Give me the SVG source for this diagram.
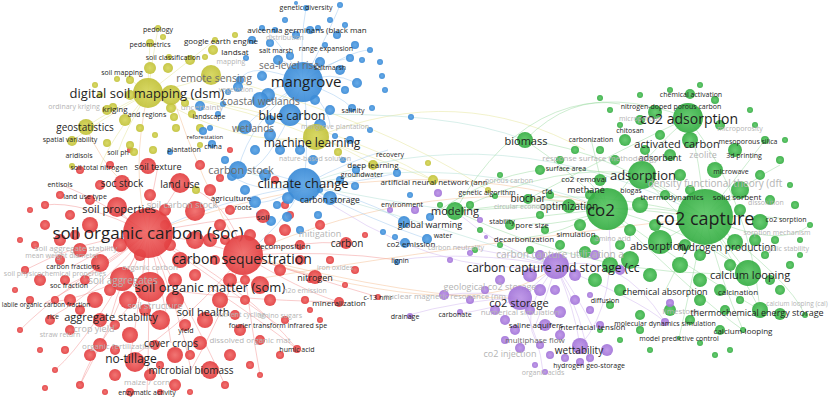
<svg xmlns="http://www.w3.org/2000/svg" width="830" height="397" viewBox="0 0 830 397">
<defs>
<radialGradient id="gR"><stop offset="0" stop-color="#f06a68"/><stop offset="1" stop-color="#e23d3f"/></radialGradient>
<radialGradient id="gY"><stop offset="0" stop-color="#d6d65a"/><stop offset="1" stop-color="#c2c23a"/></radialGradient>
<radialGradient id="gB"><stop offset="0" stop-color="#5aa4e6"/><stop offset="1" stop-color="#3a8ad6"/></radialGradient>
<radialGradient id="gG"><stop offset="0" stop-color="#5cc866"/><stop offset="1" stop-color="#35ad43"/></radialGradient>
<radialGradient id="gP"><stop offset="0" stop-color="#bb92e6"/><stop offset="1" stop-color="#a274d8"/></radialGradient>
<style>
.r circle{fill:url(#gR);fill-opacity:.92}
.y circle{fill:url(#gY);fill-opacity:.92}
.b circle{fill:url(#gB);fill-opacity:.92}
.g circle{fill:url(#gG);fill-opacity:.92}
.p circle{fill:url(#gP);fill-opacity:.92}
#connectors path{fill:none;stroke-width:1;stroke-opacity:.45}
.er{stroke:#f28c8c}.ey{stroke:#e2e28e}.eb{stroke:#96c4ee}.eg{stroke:#92d89a}.ep{stroke:#cdb0ee}.et{stroke:#a8dcd0}.eo{stroke:#f4b888}
text{font-family:"Open Sans","DejaVu Sans",sans-serif;fill:#1e1e1e;text-anchor:middle;dominant-baseline:central}
text.l{fill:#b4b4b4}
text.m{fill:#6a6a6a}
</style>
</defs>
<rect width="830" height="397" fill="#fff"/>
<g id="connectors">
<path class="er" d="M148,233 Q100,200 60,184"/><path class="er" d="M148,233 Q100,270 68,285"/><path class="er" d="M148,233 Q90,280 45,303"/><path class="er" d="M148,233 Q100,290 53,316"/><path class="er" d="M148,233 Q140,300 130,358"/><path class="er" d="M148,233 Q165,300 171,343"/><path class="er" d="M148,233 Q180,310 191,370"/><path class="er" d="M148,233 Q150,320 147,392"/><path class="er" d="M148,233 Q120,280 111,316"/><path class="er" d="M148,233 Q100,250 73,266"/><path class="er" d="M148,233 Q125,220 117,207"/><path class="er" d="M148,233 Q150,200 158,166"/><path class="er" d="M148,233 Q170,200 180,183"/><path class="er" d="M148,233 Q200,240 243,255"/><path class="er" d="M148,233 Q210,220 263,216"/><path class="er" d="M148,233 Q250,290 297,349"/><path class="er" d="M148,233 Q230,290 278,325"/><path class="er" d="M148,233 Q80,240 25,270"/><path class="er" d="M148,233 Q60,290 20,330"/><path class="er" d="M148,233 Q110,330 80,385"/><path class="er" d="M148,233 Q80,200 45,205"/><path class="er" d="M148,233 Q200,330 225,385"/><path class="er" d="M148,233 Q90,340 55,370"/><path class="er" d="M243,255 Q300,240 346,243"/><path class="er" d="M243,255 Q290,270 315,277"/><path class="er" d="M243,255 Q300,290 339,302"/><path class="er" d="M243,255 Q320,280 378,297"/><path class="er" d="M243,255 Q190,320 130,358"/><path class="er" d="M243,255 Q220,320 191,370"/><path class="er" d="M243,255 Q330,250 398,260"/><path class="er" d="M243,255 Q250,320 260,375"/><path class="er" d="M243,255 Q230,200 180,183"/><path class="er" d="M210,287 Q260,320 297,349"/><path class="er" d="M150,287 Q230,300 339,302"/><path class="er" d="M150,287 Q100,330 80,385"/><path class="er" d="M122,279 Q80,300 45,303"/><path class="eo" d="M243,255 Q440,170 607,209"/><path class="eo" d="M243,255 Q480,330 556,266"/><path class="eo" d="M148,233 Q400,140 607,209"/><path class="eo" d="M210,287 Q420,250 705,217"/><path class="eo" d="M243,255 Q420,300 520,298"/><path class="eo" d="M148,93 Q130,170 148,233"/><path class="eo" d="M86,127 Q100,160 123,183"/><path class="eo" d="M172,95 Q200,180 243,255"/>
<path class="ey" d="M148,93 Q152,60 158,28"/><path class="ey" d="M148,93 Q148,70 150,43"/><path class="ey" d="M148,93 Q130,80 122,72"/><path class="ey" d="M148,93 Q110,110 86,127"/><path class="ey" d="M148,93 Q100,120 72,141"/><path class="ey" d="M148,93 Q125,130 118,152"/><path class="ey" d="M148,93 Q110,140 100,167"/><path class="ey" d="M148,93 Q190,60 215,40"/><path class="ey" d="M148,93 Q190,85 211,75"/><path class="ey" d="M172,95 Q250,110 316,137"/><path class="ey" d="M172,95 Q330,120 433,180"/><path class="ey" d="M316,137 Q460,80 585,150"/><path class="ey" d="M211,75 Q380,120 488,190"/><path class="ey" d="M316,137 Q350,150 373,165"/><path class="ey" d="M316,137 Q380,160 433,180"/><path class="ey" d="M148,93 Q240,150 316,137"/>
<path class="eb" d="M303,82 Q300,40 306,8"/><path class="eb" d="M303,82 Q290,60 278,60"/><path class="eb" d="M303,82 Q330,60 350,58"/><path class="eb" d="M303,82 Q330,70 357,83"/><path class="eb" d="M303,82 Q340,95 352,108"/><path class="eb" d="M303,82 Q330,110 330,126"/><path class="eb" d="M303,82 Q270,85 260,100"/><path class="eb" d="M303,82 Q295,100 290,115"/><path class="eb" d="M303,82 Q310,130 304,185"/><path class="eb" d="M303,82 Q250,120 238,170"/><path class="eb" d="M303,82 Q260,110 245,127"/><path class="eb" d="M303,82 Q250,60 240,80"/><path class="eb" d="M303,82 Q280,40 262,28"/><path class="eb" d="M303,82 Q330,30 340,5"/><path class="eb" d="M303,82 Q350,50 370,50"/><path class="eb" d="M304,185 Q270,170 238,170"/><path class="eb" d="M304,185 Q260,195 232,176"/><path class="eb" d="M304,185 Q270,205 255,202"/><path class="eb" d="M304,185 Q370,200 404,222"/><path class="eb" d="M304,185 Q370,220 427,239"/><path class="eb" d="M304,185 Q350,185 397,173"/><path class="eb" d="M304,185 Q350,160 388,150"/><path class="eb" d="M304,185 Q220,200 148,233"/><path class="eb" d="M304,185 Q280,230 243,255"/><path class="eb" d="M290,115 Q260,180 238,170"/><path class="et" d="M304,185 Q460,150 607,209"/><path class="et" d="M304,185 Q500,110 705,217"/><path class="et" d="M304,185 Q380,200 455,211"/><path class="et" d="M290,115 Q450,110 525,140"/><path class="et" d="M238,170 Q420,220 556,266"/>
<path class="eg" d="M705,217 Q700,160 688,118"/><path class="eg" d="M705,217 Q670,190 642,175"/><path class="eg" d="M705,217 Q660,205 607,209"/><path class="eg" d="M705,217 Q680,230 660,242"/><path class="eg" d="M705,217 Q720,240 735,242"/><path class="eg" d="M705,217 Q730,250 748,273"/><path class="eg" d="M705,217 Q740,270 760,310"/><path class="eg" d="M705,217 Q730,200 737,196"/><path class="eg" d="M705,217 Q760,215 786,219"/><path class="eg" d="M705,217 Q750,180 780,165"/><path class="eg" d="M705,217 Q750,160 765,140"/><path class="eg" d="M705,217 Q720,280 743,330"/><path class="eg" d="M705,217 Q690,290 679,338"/><path class="eg" d="M705,217 Q680,260 665,291"/><path class="eg" d="M705,217 Q610,150 525,140"/><path class="eg" d="M705,217 Q580,200 455,211"/><path class="eg" d="M705,217 Q600,190 528,199"/><path class="eg" d="M705,217 Q780,250 810,225"/><path class="eg" d="M705,217 Q790,280 805,315"/><path class="eg" d="M607,209 Q570,170 525,140"/><path class="eg" d="M607,209 Q530,200 455,211"/><path class="eg" d="M607,209 Q560,200 528,199"/><path class="eg" d="M607,209 Q570,225 532,224"/><path class="eg" d="M607,209 Q560,235 524,238"/><path class="eg" d="M607,209 Q550,215 502,221"/><path class="eg" d="M607,209 Q600,190 584,178"/><path class="eg" d="M607,209 Q600,175 591,139"/><path class="eg" d="M607,209 Q650,150 688,118"/><path class="eg" d="M607,209 Q690,230 748,273"/><path class="eg" d="M607,209 Q690,270 760,310"/><path class="eg" d="M455,211 Q540,60 688,118"/><path class="eg" d="M525,140 Q570,95 620,104"/><path class="eg" d="M430,217 Q560,120 705,217"/><path class="eg" d="M455,211 Q560,160 642,175"/><path class="eg" d="M528,199 Q620,150 688,118"/><path class="eg" d="M455,211 Q600,280 748,273"/><path class="eg" d="M642,175 Q700,240 748,273"/><path class="eg" d="M688,118 Q750,200 760,310"/><path class="eg" d="M607,209 Q700,300 743,330"/>
<path class="ep" d="M556,266 Q540,280 520,298"/><path class="ep" d="M556,266 Q575,310 580,346"/><path class="ep" d="M556,266 Q545,300 536,324"/><path class="ep" d="M556,266 Q580,300 592,326"/><path class="ep" d="M556,266 Q520,310 535,339"/><path class="ep" d="M556,266 Q585,320 589,365"/><path class="ep" d="M556,266 Q490,250 456,247"/><path class="ep" d="M556,266 Q470,250 398,260"/><path class="ep" d="M556,266 Q620,250 665,322"/><path class="ep" d="M556,266 Q640,300 665,322"/><path class="ep" d="M520,298 Q490,310 455,314"/><path class="ep" d="M520,298 Q460,300 405,316"/><path class="ep" d="M520,298 Q480,290 444,295"/><path class="ep" d="M520,298 Q540,340 543,372"/><path class="ep" d="M580,346 Q620,300 607,209"/><path class="ep" d="M304,185 Q430,280 556,266"/><path class="ep" d="M455,211 Q500,250 556,266"/>
</g>
<g class="r" id="red-bubbles">
<circle cx="90" cy="225" r="8"/><circle cx="80" cy="250" r="7"/><circle cx="60" cy="240" r="6"/><circle cx="45" cy="225" r="5"/><circle cx="100" cy="263" r="9"/><circle cx="70" cy="300" r="6"/><circle cx="95" cy="300" r="8"/><circle cx="128" cy="300" r="9"/><circle cx="175" cy="300" r="9"/><circle cx="205" cy="320" r="8"/><circle cx="160" cy="320" r="10"/><circle cx="130" cy="335" r="8"/><circle cx="100" cy="345" r="7"/><circle cx="135" cy="362" r="10"/><circle cx="175" cy="355" r="8"/><circle cx="200" cy="343" r="7"/><circle cx="220" cy="300" r="8"/><circle cx="230" cy="280" r="7"/><circle cx="260" cy="285" r="9"/><circle cx="280" cy="270" r="6"/><circle cx="270" cy="300" r="6"/><circle cx="240" cy="330" r="6"/><circle cx="210" cy="370" r="9"/><circle cx="175" cy="385" r="6"/><circle cx="150" cy="375" r="6"/><circle cx="115" cy="375" r="6"/><circle cx="90" cy="355" r="6"/><circle cx="70" cy="330" r="5"/><circle cx="50" cy="320" r="5"/><circle cx="40" cy="280" r="6"/><circle cx="60" cy="260" r="5"/><circle cx="210" cy="240" r="7"/><circle cx="220" cy="225" r="6"/><circle cx="195" cy="240" r="9"/><circle cx="180" cy="260" r="8"/><circle cx="100" cy="320" r="7"/><circle cx="80" cy="310" r="5"/><circle cx="165" cy="210" r="6"/><circle cx="150" cy="195" r="6"/><circle cx="90" cy="200" r="5"/><circle cx="70" cy="215" r="5"/><circle cx="100" cy="185" r="5"/><circle cx="210" cy="190" r="6"/><circle cx="230" cy="210" r="5"/><circle cx="270" cy="240" r="6"/><circle cx="285" cy="230" r="6"/><circle cx="300" cy="260" r="5"/><circle cx="305" cy="300" r="4"/><circle cx="285" cy="320" r="4"/><circle cx="260" cy="340" r="5"/><circle cx="230" cy="355" r="6"/><circle cx="250" cy="365" r="4"/><circle cx="190" cy="392" r="3"/><circle cx="130" cy="392" r="4"/><circle cx="160" cy="392" r="3"/><circle cx="65" cy="350" r="4"/><circle cx="40" cy="350" r="3"/><circle cx="30" cy="300" r="4"/><circle cx="25" cy="270" r="4"/><circle cx="35" cy="245" r="4"/><circle cx="45" cy="205" r="4"/><circle cx="60" cy="195" r="4"/><circle cx="80" cy="170" r="4"/><circle cx="110" cy="165" r="4"/><circle cx="130" cy="150" r="3"/><circle cx="200" cy="165" r="5"/><circle cx="220" cy="178" r="4"/><circle cx="230" cy="150" r="3"/><circle cx="275" cy="180" r="4"/><circle cx="285" cy="205" r="4"/><circle cx="320" cy="225" r="5"/><circle cx="330" cy="260" r="4"/><circle cx="300" cy="245" r="5"/><circle cx="355" cy="270" r="4"/><circle cx="365" cy="235" r="3"/><circle cx="280" cy="355" r="4"/><circle cx="320" cy="320" r="3"/><circle cx="310" cy="310" r="3"/><circle cx="345" cy="285" r="3"/><circle cx="260" cy="375" r="3"/><circle cx="225" cy="385" r="4"/><circle cx="105" cy="392" r="3"/><circle cx="80" cy="385" r="4"/><circle cx="55" cy="370" r="3"/><circle cx="45" cy="388" r="3"/><circle cx="20" cy="330" r="3"/><circle cx="15" cy="290" r="3"/><circle cx="20" cy="240" r="3"/><circle cx="30" cy="210" r="3"/><circle cx="245" cy="300" r="5"/><circle cx="215" cy="260" r="5"/><circle cx="140" cy="255" r="6"/><circle cx="120" cy="245" r="7"/><circle cx="170" cy="245" r="6"/><circle cx="65" cy="280" r="5"/><circle cx="85" cy="280" r="5"/><circle cx="110" cy="290" r="6"/><circle cx="195" cy="275" r="6"/><circle cx="235" cy="315" r="5"/><circle cx="185" cy="325" r="6"/><circle cx="115" cy="350" r="5"/><circle cx="155" cy="345" r="5"/><circle cx="250" cy="235" r="6"/><circle cx="165" cy="225" r="5"/><circle cx="225" cy="240" r="5"/><circle cx="290" cy="215" r="4"/><circle cx="310" cy="280" r="3"/><circle cx="175" cy="280" r="7"/><circle cx="145" cy="310" r="6"/><circle cx="115" cy="325" r="5"/><circle cx="75" cy="235" r="5"/><circle cx="55" cy="300" r="4"/><circle cx="190" cy="355" r="5"/><circle cx="160" cy="365" r="4"/><circle cx="245" cy="280" r="5"/>
</g>
<g class="y" id="yellow-bubbles">
<circle cx="211" cy="75" r="10"/><circle cx="190" cy="60" r="5"/><circle cx="163" cy="37" r="3"/><circle cx="169" cy="57" r="3"/><circle cx="205" cy="57" r="3"/><circle cx="150" cy="68" r="6"/><circle cx="168" cy="68" r="5"/><circle cx="130" cy="80" r="4"/><circle cx="117" cy="79" r="3"/><circle cx="113" cy="107" r="4"/><circle cx="171" cy="108" r="5"/><circle cx="192" cy="114" r="4"/><circle cx="174" cy="117" r="4"/><circle cx="125" cy="120" r="6"/><circle cx="107" cy="143" r="4"/><circle cx="130" cy="145" r="4"/><circle cx="153" cy="150" r="4"/><circle cx="200" cy="145" r="3"/><circle cx="196" cy="190" r="4"/><circle cx="213" cy="50" r="5"/><circle cx="235" cy="35" r="3"/><circle cx="130" cy="95" r="5"/><circle cx="185" cy="103" r="4"/><circle cx="100" cy="95" r="3"/><circle cx="95" cy="85" r="3"/><circle cx="140" cy="128" r="4"/><circle cx="155" cy="135" r="3"/><circle cx="200" cy="128" r="4"/><circle cx="428" cy="163" r="3"/><circle cx="240" cy="128" r="3"/><circle cx="176" cy="128" r="4"/><circle cx="338" cy="152" r="4"/><circle cx="488" cy="190" r="3"/>
</g>
<g class="b" id="blue-bubbles">
<circle cx="268" cy="95" r="7"/><circle cx="262" cy="76" r="5"/><circle cx="278" cy="60" r="5"/><circle cx="290" cy="56" r="4"/><circle cx="320" cy="62" r="5"/><circle cx="340" cy="70" r="5"/><circle cx="350" cy="58" r="4"/><circle cx="357" cy="83" r="5"/><circle cx="382" cy="76" r="3"/><circle cx="330" cy="110" r="5"/><circle cx="260" cy="100" r="8"/><circle cx="245" cy="127" r="7"/><circle cx="330" cy="198" r="7"/><circle cx="318" cy="215" r="4"/><circle cx="287" cy="217" r="5"/><circle cx="277" cy="205" r="4"/><circle cx="255" cy="202" r="6"/><circle cx="232" cy="176" r="5"/><circle cx="212" cy="144" r="4"/><circle cx="203" cy="131" r="4"/><circle cx="306" cy="8" r="3"/><circle cx="296" cy="3" r="2"/><circle cx="262" cy="28" r="3"/><circle cx="252" cy="40" r="4"/><circle cx="270" cy="43" r="4"/><circle cx="296" cy="35" r="4"/><circle cx="310" cy="30" r="4"/><circle cx="318" cy="28" r="3"/><circle cx="325" cy="45" r="3"/><circle cx="337" cy="35" r="4"/><circle cx="355" cy="45" r="4"/><circle cx="362" cy="60" r="3"/><circle cx="370" cy="50" r="3"/><circle cx="380" cy="62" r="3"/><circle cx="246" cy="58" r="3"/><circle cx="240" cy="80" r="4"/><circle cx="228" cy="92" r="3"/><circle cx="238" cy="87" r="5"/><circle cx="223" cy="104" r="3"/><circle cx="218" cy="114" r="3"/><circle cx="200" cy="106" r="5"/><circle cx="210" cy="128" r="3"/><circle cx="397" cy="173" r="4"/><circle cx="356" cy="170" r="4"/><circle cx="343" cy="160" r="3"/><circle cx="355" cy="186" r="4"/><circle cx="320" cy="190" r="3"/><circle cx="271" cy="221" r="5"/><circle cx="260" cy="215" r="4"/><circle cx="300" cy="230" r="4"/><circle cx="404" cy="222" r="6"/><circle cx="430" cy="217" r="4"/><circle cx="427" cy="239" r="5"/><circle cx="405" cy="243" r="5"/><circle cx="395" cy="237" r="3"/><circle cx="383" cy="232" r="3"/><circle cx="352" cy="108" r="4"/><circle cx="372" cy="108" r="3"/><circle cx="335" cy="136" r="3"/><circle cx="315" cy="100" r="5"/><circle cx="320" cy="125" r="6"/><circle cx="270" cy="135" r="6"/><circle cx="280" cy="150" r="5"/><circle cx="255" cy="150" r="5"/><circle cx="225" cy="160" r="4"/><circle cx="265" cy="175" r="6"/><circle cx="350" cy="140" r="4"/><circle cx="370" cy="130" r="3"/><circle cx="385" cy="90" r="3"/><circle cx="345" cy="90" r="4"/><circle cx="330" cy="20" r="3"/><circle cx="285" cy="20" r="3"/><circle cx="340" cy="5" r="3"/><circle cx="270" cy="120" r="5"/><circle cx="300" cy="150" r="5"/><circle cx="340" cy="180" r="4"/><circle cx="410" cy="195" r="3"/><circle cx="245" cy="190" r="5"/><circle cx="288" cy="198" r="6"/><circle cx="313" cy="160" r="5"/><circle cx="397" cy="262" r="3"/><circle cx="411" cy="117" r="3"/><circle cx="275" cy="30" r="3"/><circle cx="345" cy="25" r="3"/>
</g>
<g class="g" id="green-bubbles">
<circle cx="655" cy="112" r="7"/><circle cx="690" cy="94" r="5"/><circle cx="690" cy="140" r="8"/><circle cx="735" cy="242" r="8"/><circle cx="780" cy="314" r="6"/><circle cx="740" cy="190" r="9"/><circle cx="760" cy="222" r="8"/><circle cx="735" cy="150" r="7"/><circle cx="715" cy="170" r="8"/><circle cx="640" cy="205" r="8"/><circle cx="630" cy="260" r="9"/><circle cx="610" cy="265" r="8"/><circle cx="595" cy="280" r="7"/><circle cx="620" cy="290" r="6"/><circle cx="650" cy="275" r="7"/><circle cx="680" cy="265" r="8"/><circle cx="700" cy="280" r="7"/><circle cx="720" cy="290" r="6"/><circle cx="700" cy="300" r="6"/><circle cx="690" cy="320" r="5"/><circle cx="670" cy="310" r="6"/><circle cx="640" cy="315" r="5"/><circle cx="610" cy="305" r="4"/><circle cx="720" cy="330" r="5"/><circle cx="780" cy="290" r="5"/><circle cx="790" cy="265" r="4"/><circle cx="800" cy="240" r="3"/><circle cx="795" cy="205" r="4"/><circle cx="790" cy="185" r="3"/><circle cx="780" cy="160" r="4"/><circle cx="765" cy="140" r="4"/><circle cx="755" cy="125" r="3"/><circle cx="720" cy="125" r="5"/><circle cx="715" cy="100" r="4"/><circle cx="700" cy="85" r="3"/><circle cx="670" cy="90" r="3"/><circle cx="640" cy="120" r="5"/><circle cx="625" cy="140" r="6"/><circle cx="615" cy="160" r="5"/><circle cx="600" cy="180" r="6"/><circle cx="590" cy="195" r="5"/><circle cx="580" cy="225" r="6"/><circle cx="595" cy="240" r="5"/><circle cx="585" cy="252" r="6"/><circle cx="560" cy="245" r="5"/><circle cx="545" cy="230" r="4"/><circle cx="540" cy="215" r="4"/><circle cx="550" cy="195" r="4"/><circle cx="540" cy="170" r="5"/><circle cx="560" cy="160" r="4"/><circle cx="575" cy="150" r="4"/><circle cx="600" cy="150" r="4"/><circle cx="620" cy="125" r="3"/><circle cx="660" cy="135" r="5"/><circle cx="670" cy="155" r="6"/><circle cx="680" cy="175" r="6"/><circle cx="690" cy="190" r="5"/><circle cx="665" cy="195" r="5"/><circle cx="645" cy="150" r="5"/><circle cx="760" cy="175" r="5"/><circle cx="770" cy="200" r="5"/><circle cx="775" cy="240" r="4"/><circle cx="765" cy="255" r="4"/><circle cx="740" cy="300" r="4"/><circle cx="725" cy="310" r="5"/><circle cx="730" cy="350" r="3"/><circle cx="700" cy="343" r="3"/><circle cx="620" cy="340" r="3"/><circle cx="600" cy="330" r="3"/><circle cx="500" cy="175" r="3"/><circle cx="495" cy="196" r="3"/><circle cx="480" cy="230" r="3"/><circle cx="510" cy="225" r="5"/><circle cx="500" cy="245" r="3"/><circle cx="530" cy="250" r="4"/><circle cx="470" cy="205" r="4"/><circle cx="440" cy="205" r="3"/><circle cx="475" cy="250" r="3"/><circle cx="600" cy="98" r="3"/><circle cx="610" cy="110" r="3"/><circle cx="640" cy="95" r="3"/><circle cx="800" cy="255" r="3"/><circle cx="810" cy="225" r="3"/><circle cx="785" cy="140" r="3"/><circle cx="750" cy="110" r="3"/><circle cx="805" cy="315" r="3"/><circle cx="715" cy="355" r="3"/><circle cx="650" cy="350" r="3"/><circle cx="640" cy="330" r="4"/><circle cx="630" cy="230" r="6"/><circle cx="655" cy="225" r="6"/><circle cx="685" cy="245" r="6"/><circle cx="620" cy="245" r="5"/><circle cx="700" cy="255" r="6"/><circle cx="730" cy="265" r="6"/><circle cx="770" cy="280" r="5"/><circle cx="740" cy="210" r="6"/><circle cx="755" cy="240" r="6"/>
</g>
<g class="p" id="purple-bubbles">
<circle cx="607" cy="350" r="6"/><circle cx="540" cy="255" r="5"/><circle cx="595" cy="255" r="5"/><circle cx="575" cy="275" r="6"/><circle cx="530" cy="275" r="7"/><circle cx="500" cy="280" r="5"/><circle cx="485" cy="290" r="4"/><circle cx="495" cy="310" r="5"/><circle cx="470" cy="300" r="4"/><circle cx="444" cy="295" r="5"/><circle cx="460" cy="312" r="3"/><circle cx="410" cy="316" r="3"/><circle cx="505" cy="320" r="5"/><circle cx="515" cy="330" r="5"/><circle cx="530" cy="310" r="5"/><circle cx="545" cy="325" r="6"/><circle cx="560" cy="312" r="6"/><circle cx="575" cy="300" r="5"/><circle cx="590" cy="310" r="4"/><circle cx="600" cy="325" r="4"/><circle cx="560" cy="335" r="5"/><circle cx="540" cy="345" r="4"/><circle cx="520" cy="348" r="5"/><circle cx="505" cy="340" r="4"/><circle cx="550" cy="355" r="4"/><circle cx="565" cy="358" r="4"/><circle cx="580" cy="362" r="4"/><circle cx="590" cy="358" r="4"/><circle cx="545" cy="372" r="3"/><circle cx="590" cy="295" r="3"/><circle cx="415" cy="210" r="4"/><circle cx="438" cy="193" r="4"/><circle cx="450" cy="260" r="3"/><circle cx="470" cy="253" r="3"/><circle cx="486" cy="237" r="2"/><circle cx="540" cy="290" r="6"/><circle cx="555" cy="290" r="5"/><circle cx="620" cy="270" r="5"/><circle cx="665" cy="322" r="4"/><circle cx="670" cy="303" r="4"/><circle cx="480" cy="220" r="3"/><circle cx="390" cy="210" r="3"/><circle cx="535" cy="365" r="3"/>
</g>
<g id="n-dsm" class="y"><circle cx="148" cy="93" r="15"/><circle cx="171" cy="95" r="10"/><text x="147" y="93" font-size="13">digital soil mapping (dsm)</text></g>
<g id="n-pedology" class="y"><circle cx="158" cy="28" r="3"/><text x="158" y="29" font-size="7">pedology</text></g>
<g id="n-pedometrics" class="y"><circle cx="150" cy="43" r="4"/><text x="150" y="44" font-size="7">pedometrics</text></g>
<g id="n-soilclass" class="y"><text x="173" y="57" font-size="7">soil classification</text></g>
<g id="n-soilmapping" class="y"><text x="122" y="72" font-size="7">soil mapping</text></g>
<g id="n-gee" class="y"><circle cx="215" cy="40" r="3"/><text x="221" y="40" font-size="8">google earth engine</text></g>
<g id="n-landsat" class="y"><text x="235" y="51" font-size="8">landsat</text></g>
<g id="n-mapping" class="y"><text class="l" x="231" y="61" font-size="7">mapping</text></g>
<g id="n-rs" class="y"><text class="m" x="214" y="78" font-size="10.5">remote sensing</text></g>
<g id="n-ordkriging" class="y"><text class="l" x="74" y="106" font-size="7">ordinary kriging</text></g>
<g id="n-kriging" class="y"><circle cx="107" cy="110" r="5"/><text x="115" y="108" font-size="8">kriging</text></g>
<g id="n-andregions" class="y"><text x="147" y="114" font-size="7">and regions</text></g>
<g id="n-geostat" class="y"><circle cx="86" cy="127" r="8"/><text x="85" y="127" font-size="10">geostatistics</text></g>
<g id="n-spatvar" class="y"><circle cx="72" cy="141" r="5"/><text x="70" y="139" font-size="7">spatial variability</text></g>
<g id="n-soilph" class="y"><circle cx="134" cy="152" r="4"/><text x="118" y="152" font-size="7">soil ph</text></g>
<g id="n-aridisols" class="y"><text x="79" y="155" font-size="7">aridisols</text></g>
<g id="n-stn" class="y"><circle cx="72" cy="166" r="3"/><text x="99" y="167" font-size="7">soil total nitrogen</text></g>
<g id="n-uncert" class="y"><text class="l" x="202" y="106" font-size="8">uncertainty</text></g>
<g id="n-veg" class="y"><text class="l" x="236" y="89" font-size="7">vegetation</text></g>
<g id="n-landscape" class="y"><text x="209" y="116" font-size="7">landscape</text></g>
<g id="n-ml" class="y"><circle cx="316" cy="137" r="13"/><text x="312" y="142" font-size="12">machine learning</text></g>
<g id="n-dl" class="y"><circle cx="373" cy="165" r="5"/><text x="373" y="164" font-size="8">deep learning</text></g>
<g id="n-ann" class="y"><circle cx="433" cy="180" r="5"/><text x="434" y="181" font-size="8">artificial neural network (ann</text></g>
<g id="n-ga" class="y"><text x="487" y="192" font-size="7">genetic algorithm</text></g>
<g id="n-recovery" class="y"><text x="390" y="154" font-size="7">recovery</text></g>
<g id="n-mangrove" class="b"><circle cx="303" cy="82" r="20"/><text x="306" y="81" font-size="15">mangrove</text></g>
<g id="n-gendiv" class="b"><text x="306" y="7" font-size="7">genetic diversity</text></g>
<g id="n-avic" class="b"><text x="307" y="29" font-size="8">avicennia germinans (black man</text></g>
<g id="n-distrib" class="b"><text class="l" x="285" y="37" font-size="7">distribution</text></g>
<g id="n-saltmarsh" class="b"><text x="276" y="50" font-size="7">salt marsh</text></g>
<g id="n-range" class="b"><text x="326" y="48" font-size="7">range expansion</text></g>
<g id="n-slr" class="b"><text class="m" x="289" y="65" font-size="10">sea-level rise</text></g>
<g id="n-saltmarsh2" class="b"><text x="330" y="67" font-size="7">saltmarsh</text></g>
<g id="n-coastal" class="b"><text class="m" x="261" y="101" font-size="10">coastal wetlands</text></g>
<g id="n-bluecarbon" class="b"><circle cx="290" cy="115" r="11"/><text x="292" y="115" font-size="12">blue carbon</text></g>
<g id="n-wetlands" class="b"><text class="m" x="253" y="128" font-size="10">wetlands</text></g>
<g id="n-salinity" class="b"><text x="353" y="110" font-size="7">salinity</text></g>
<g id="n-mangplant" class="b"><text class="l" x="335" y="126" font-size="7">mangrove plantation</text></g>
<g id="n-refor" class="b"><text x="205" y="137" font-size="6">reforestation</text></g>
<g id="n-china" class="b"><text x="213" y="146" font-size="7">china</text></g>
<g id="n-plantation" class="b"><circle cx="170" cy="152" r="3"/><text x="184" y="149" font-size="7">plantation</text></g>
<g id="n-cstock" class="b"><circle cx="238" cy="170" r="9"/><text class="m" x="241" y="169" font-size="11">carbon stock</text></g>
<g id="n-nbs" class="b"><text class="l" x="315" y="158" font-size="7">nature-based solution</text></g>
<g id="n-cc" class="b"><circle cx="304" cy="185" r="17"/><text x="303" y="183" font-size="13">climate change</text></g>
<g id="n-cstorage" class="b"><text x="330" y="199" font-size="8.5">carbon storage</text></g>
<g id="n-gw" class="b"><text x="362" y="174" font-size="7">groundwater</text></g>
<g id="n-agri" class="b"><text x="231" y="197" font-size="8">agriculture</text></g>
<g id="n-roots" class="b"><text x="243" y="207" font-size="7">roots</text></g>
<g id="n-gwarm" class="b"><text x="430" y="224" font-size="9">global warming</text></g>
<g id="n-water" class="b"><text x="443" y="235" font-size="7">water</text></g>
<g id="n-co2em" class="b"><text x="411" y="243" font-size="8">co2 emission</text></g>
<g id="n-env" class="b"><text x="402" y="204" font-size="7">environment</text></g>
<g id="n-soc" class="r"><circle cx="148" cy="233" r="25"/><text x="148" y="232" font-size="17">soil organic carbon (soc)</text></g>
<g id="n-carbseq" class="r"><circle cx="243" cy="255" r="20"/><text x="242" y="258" font-size="14">carbon sequestration</text></g>
<g id="n-som" class="r"><circle cx="150" cy="287" r="15"/><circle cx="122" cy="279" r="12"/><text x="210" y="287" font-size="13">soil organic matter (som)</text></g>
<g id="n-texture" class="r"><circle cx="148" cy="166" r="8"/><text x="158" y="166" font-size="9">soil texture</text></g>
<g id="n-socstock" class="r"><circle cx="122" cy="183" r="8"/><text x="122" y="183" font-size="10">soc stock</text></g>
<g id="n-landuse" class="r"><circle cx="180" cy="183" r="10"/><text x="180" y="184" font-size="10">land use</text></g>
<g id="n-entisols" class="r"><text x="60" y="184" font-size="7">entisols</text></g>
<g id="n-lut" class="r"><text x="85" y="196" font-size="7">land use type</text></g>
<g id="n-props" class="r"><circle cx="117" cy="207" r="10"/><text x="119" y="208" font-size="11">soil properties</text></g>
<g id="n-scstock" class="r"><circle cx="195" cy="211" r="10"/><text class="l" x="182" y="204" font-size="9">soil carbon stock</text></g>
<g id="n-aggstab2" class="r"><text class="l" x="76" y="247" font-size="8">soil aggregate stability</text></g>
<g id="n-mwd" class="r"><text class="l" x="62" y="255" font-size="7">mean weight diameter</text></g>
<g id="n-soil" class="r"><circle cx="263" cy="216" r="7"/><text x="263" y="216" font-size="8">soil</text></g>
<g id="n-decomp" class="r"><text x="283" y="245" font-size="8">decomposition</text></g>
<g id="n-mitig" class="r"><text class="l" x="320" y="233" font-size="9">mitigation</text></g>
<g id="n-carbon" class="r"><circle cx="346" cy="243" r="6"/><text x="347" y="243" font-size="10">carbon</text></g>
<g id="n-nitrogen" class="r"><circle cx="315" cy="277" r="7"/><text x="315" y="277" font-size="9">nitrogen</text></g>
<g id="n-ironox" class="r"><text class="l" x="335" y="267" font-size="7">iron oxides</text></g>
<g id="n-n2o" class="r"><text class="l" x="305" y="290" font-size="7">n2o emission</text></g>
<g id="n-mineral" class="r"><circle cx="339" cy="302" r="5"/><text x="339" y="302" font-size="8">mineralization</text></g>
<g id="n-c13" class="r"><circle cx="378" cy="297" r="3"/><text x="378" y="297" font-size="7">c-13 nmr</text></g>
<g id="n-cfrac" class="r"><text x="73" y="266" font-size="7">carbon fractions</text></g>
<g id="n-orgc" class="r"><text class="l" x="150" y="266" font-size="8">organic carbon</text></g>
<g id="n-physchem" class="r"><text class="l" x="55" y="273" font-size="7">soil physicochemical properties</text></g>
<g id="n-aggs" class="r"><text class="l" x="123" y="280" font-size="10">soil aggregates</text></g>
<g id="n-socfrac" class="r"><text x="69" y="285" font-size="7">soc fraction</text></g>
<g id="n-labile" class="r"><text x="46" y="304" font-size="6.5">labile organic carbon fraction</text></g>
<g id="n-structure" class="r"><text class="l" x="155" y="305" font-size="9">soil structure</text></g>
<g id="n-aggstab" class="r"><text x="111" y="316" font-size="11">aggregate stability</text></g>
<g id="n-rice" class="r"><text x="53" y="316" font-size="7">rice</text></g>
<g id="n-health" class="r"><text x="203" y="311" font-size="11">soil health</text></g>
<g id="n-cropyield" class="r"><text class="l" x="94" y="328" font-size="9">crop yield</text></g>
<g id="n-yield" class="r"><text x="186" y="330" font-size="7">yield</text></g>
<g id="n-ftir" class="r"><text x="278" y="325" font-size="7">fourier transform infrared spe</text></g>
<g id="n-nutcyc" class="r"><text class="l" x="240" y="314" font-size="7">nutrient cycling</text></g>
<g id="n-sugars" class="r"><text class="l" x="280" y="315" font-size="7">amino sugars</text></g>
<g id="n-straw" class="r"><text class="l" x="60" y="334" font-size="7">straw return</text></g>
<g id="n-orgfert" class="r"><text class="l" x="118" y="345" font-size="8">organic fertilization</text></g>
<g id="n-cover" class="r"><text x="171" y="343" font-size="10">cover crops</text></g>
<g id="n-dom" class="r"><text class="l" x="250" y="339" font-size="8">dissolved organic mat</text></g>
<g id="n-notill" class="r"><text x="131" y="358" font-size="12">no-tillage</text></g>
<g id="n-micbio" class="r"><text x="191" y="370" font-size="10">microbial biomass</text></g>
<g id="n-maize" class="r"><text class="l" x="147" y="381" font-size="8">maize / corn</text></g>
<g id="n-enzyme" class="r"><text x="147" y="392" font-size="7">enzymatic activity</text></g>
<g id="n-humic" class="r"><circle cx="297" cy="349" r="4"/><text x="297" y="349" font-size="7">humic acid</text></g>
<g id="n-ccs" class="p"><circle cx="556" cy="266" r="13"/><text x="553" y="267" font-size="12">carbon capture and storage (cc</text></g>
<g id="n-ccus" class="p"><text class="l" x="560" y="254" font-size="10">carbon capture utilization a</text></g>
<g id="n-cneutral" class="p"><text class="l" x="456" y="247" font-size="7">carbon neutrality</text></g>
<g id="n-lignin" class="p"><text x="400" y="260" font-size="7">lignin</text></g>
<g id="n-geoco2" class="p"><text class="l" x="490" y="286" font-size="9">geological co2 storage</text></g>
<g id="n-nmr" class="p"><text class="l" x="445" y="295" font-size="8">nuclear magnetic resonance (nm</text></g>
<g id="n-drainage" class="p"><text x="405" y="316" font-size="7">drainage</text></g>
<g id="n-carbonate" class="p"><text x="455" y="314" font-size="7">carbonate</text></g>
<g id="n-co2stor" class="p"><circle cx="520" cy="298" r="12"/><text x="519" y="302" font-size="11">co2 storage</text></g>
<g id="n-numsim" class="p"><text class="l" x="520" y="311" font-size="8">numerical simulation</text></g>
<g id="n-saline" class="p"><text x="536" y="324" font-size="8">saline aquifers</text></g>
<g id="n-ift" class="p"><text x="592" y="326" font-size="8">interfacial tension</text></g>
<g id="n-multiphase" class="p"><text class="m" x="535" y="339" font-size="8">multiphase flow</text></g>
<g id="n-co2inj" class="p"><text class="l" x="510" y="353" font-size="9">co2 injection</text></g>
<g id="n-wett" class="p"><circle cx="580" cy="346" r="8"/><text x="579" y="350" font-size="10">wettability</text></g>
<g id="n-h2geo" class="p"><text x="589" y="365" font-size="7">hydrogen geo-storage</text></g>
<g id="n-orgacids" class="p"><text class="l" x="543" y="372" font-size="7">organic acids</text></g>
<g id="n-mds" class="p"><text x="665" y="323" font-size="7">molecular dynamics simulation</text></g>
<g id="n-limestone" class="p"><text class="l" x="681" y="310" font-size="8">limestone</text></g>
<g id="n-co2cap" class="g"><circle cx="705" cy="217" r="28"/><text x="705" y="218" font-size="18">co2 capture</text></g>
<g id="n-co2" class="g"><circle cx="607" cy="209" r="21"/><text x="601" y="209" font-size="17">co2</text></g>
<g id="n-co2ads" class="g"><circle cx="688" cy="118" r="15"/><text x="689" y="118" font-size="14">co2 adsorption</text></g>
<g id="n-adsorption" class="g"><circle cx="642" cy="175" r="14"/><text x="643" y="175" font-size="13">adsorption</text></g>
<g id="n-absorption" class="g"><circle cx="660" cy="242" r="12"/><text x="658" y="245" font-size="11">absorption</text></g>
<g id="n-calloop" class="g"><circle cx="748" cy="273" r="13"/><text x="750" y="274" font-size="11">calcium looping</text></g>
<g id="n-tes" class="g"><circle cx="760" cy="310" r="8"/><text x="757" y="312" font-size="9">thermochemical energy storage</text></g>
<g id="n-chemact" class="g"><text x="691" y="94" font-size="7">chemical activation</text></g>
<g id="n-ndpc" class="g"><text x="671" y="106" font-size="7">nitrogen-doped porous carbon</text></g>
<g id="n-microporous" class="g"><text class="l" x="640" y="118" font-size="7">microporous</text></g>
<g id="n-microporosity" class="g"><text class="l" x="740" y="128" font-size="7">microporosity</text></g>
<g id="n-chitosan" class="g"><text x="630" y="130" font-size="7">chitosan</text></g>
<g id="n-actc" class="g"><text x="677" y="143" font-size="11">activated carbon</text></g>
<g id="n-meso" class="g"><text x="748" y="141" font-size="7">mesoporous silica</text></g>
<g id="n-adsorbent" class="g"><text x="660" y="157" font-size="9">adsorbent</text></g>
<g id="n-zeolite" class="g"><text class="l" x="703" y="154" font-size="9">zeolite</text></g>
<g id="n-3d" class="g"><text x="744" y="155" font-size="7">3d printing</text></g>
<g id="n-microwave" class="g"><text x="731" y="171" font-size="7">microwave</text></g>
<g id="n-dft" class="g"><text class="l" x="715" y="183" font-size="10">density functional theory (dft</text></g>
<g id="n-biogas" class="g"><text x="631" y="190" font-size="7">biogas</text></g>
<g id="n-thermo" class="g"><text x="672" y="196" font-size="8">thermodynamics</text></g>
<g id="n-solidsorb" class="g"><text x="737" y="196" font-size="8">solid sorbent</text></g>
<g id="n-dissol" class="g"><text class="l" x="766" y="202" font-size="7">dissolution</text></g>
<g id="n-co2sorp" class="g"><text x="786" y="219" font-size="7">co2 sorption</text></g>
<g id="n-sorpmech" class="g"><text class="l" x="777" y="232" font-size="7">sorption mechanism</text></g>
<g id="n-h2prod" class="g"><text x="727" y="247" font-size="10">hydrogen production</text></g>
<g id="n-cyclic" class="g"><text class="l" x="787" y="248" font-size="7">cyclic stability</text></g>
<g id="n-amino" class="g"><text class="l" x="613" y="238" font-size="7">amino acid</text></g>
<g id="n-chemabs" class="g"><text x="665" y="291" font-size="9">chemical absorption</text></g>
<g id="n-calcination" class="g"><text x="738" y="291" font-size="8">calcination</text></g>
<g id="n-calcal" class="g"><text class="l" x="797" y="303" font-size="6.5">calcium looping (cal)</text></g>
<g id="n-calloop2" class="g"><circle cx="743" cy="330" r="3"/><text x="743" y="330" font-size="8">calcium-looping</text></g>
<g id="n-mpc" class="g"><circle cx="679" cy="338" r="2"/><text x="679" y="338" font-size="7">model predictive control</text></g>
<g id="n-diffusion" class="g"><text x="605" y="300" font-size="7">diffusion</text></g>
<g id="n-biomass" class="g"><circle cx="525" cy="140" r="8"/><text x="526" y="140" font-size="11">biomass</text></g>
<g id="n-carboniz" class="g"><text x="591" y="139" font-size="7">carbonization</text></g>
<g id="n-rsm" class="g"><text class="l" x="600" y="157" font-size="8">response surface methodology</text></g>
<g id="n-surfarea" class="g"><text x="566" y="168" font-size="7">surface area</text></g>
<g id="n-co2rem" class="g"><text x="584" y="178" font-size="8">co2 removal</text></g>
<g id="n-methane" class="g"><text x="586" y="189" font-size="9">methane</text></g>
<g id="n-porousc" class="g"><text class="l" x="509" y="180" font-size="7">porous carbon</text></g>
<g id="n-cfd" class="g"><text x="547" y="191" font-size="7">cfd</text></g>
<g id="n-biochar" class="g"><circle cx="528" cy="199" r="5"/><text x="528" y="198" font-size="10">biochar</text></g>
<g id="n-optim" class="g"><circle cx="569" cy="206" r="7"/><text x="569" y="206" font-size="10">optimization</text></g>
<g id="n-circ" class="g"><text class="l" x="522" y="206" font-size="7">circular economy</text></g>
<g id="n-stability" class="g"><text x="502" y="221" font-size="7">stability</text></g>
<g id="n-poresize" class="g"><text x="532" y="224" font-size="8">pore size</text></g>
<g id="n-sim" class="g"><text x="576" y="233" font-size="8">simulation</text></g>
<g id="n-decarb" class="g"><text x="524" y="238" font-size="8">decarbonization</text></g>
<g id="n-modeling" class="g"><circle cx="455" cy="211" r="9"/><text x="455" y="210" font-size="11">modeling</text></g>
</svg>
